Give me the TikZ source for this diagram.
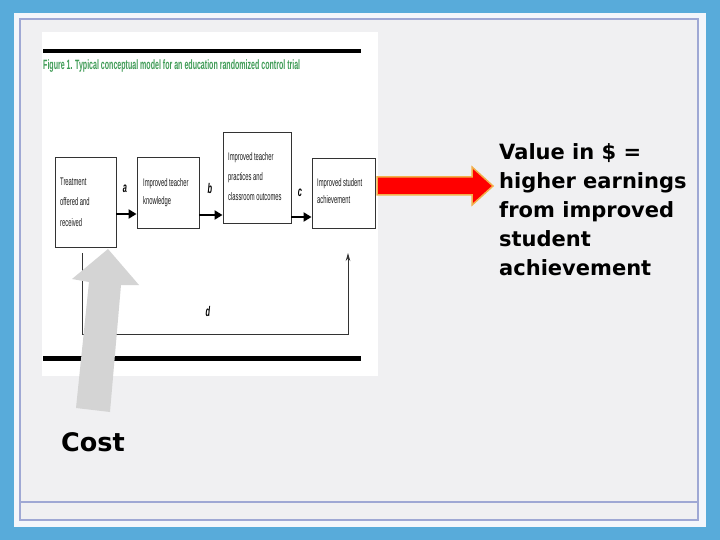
\documentclass[tikz,border=0pt]{standalone}
\usepackage{fontspec}
\usepackage{graphicx}
\setmainfont{DejaVu Sans}
\newfontfamily\figfont{Liberation Sans}
\usetikzlibrary{arrows.meta}
\definecolor{bgblue}{HTML}{58ABDA}
\definecolor{panel}{HTML}{F3F6FB}
\definecolor{inner}{HTML}{F0F0F2}
\definecolor{frame}{HTML}{9FA8D4}
\definecolor{figgreen}{HTML}{3E9B55}
\definecolor{arrowred}{HTML}{FF0000}
\definecolor{arroworange}{HTML}{F2B04A}
\definecolor{costgray}{HTML}{D4D4D4}
\newcommand\cnd[1]{\scalebox{0.53}[1]{#1}}
\tikzset{
  fbox/.style={draw=black!80, line width=0.9pt, fill=white, inner sep=0pt},
  ftxt/.style={anchor=base west, inner sep=0pt, font=\figfont\fontsize{11}{12}\selectfont, text=black!90},
  flab/.style={inner sep=0pt, font=\figfont\itshape\bfseries\fontsize{14}{15}\selectfont},
  flow/.style={line width=2.6pt, -{Triangle[length=8pt,width=9pt]}},
  bar/.style={line width=4.5pt, black},
  bigtxt/.style={anchor=base west, inner sep=0pt, font=\bfseries\fontsize{21}{29}\selectfont, align=left},
}
\begin{document}
\begin{tikzpicture}[x=1pt,y=-1pt]
\useasboundingbox (0,0) rectangle (720,540);
\fill[bgblue] (0,0) rectangle (720,540);
\fill[panel] (14,13) rectangle (706,527);
\filldraw[fill=inner, draw=frame, line width=1.6pt] (20,19) rectangle (698,520);
\draw[frame, line width=1.6pt] (20,502) -- (698,502);
% figure
\fill[white] (42,32) rectangle (378,376);
\draw[bar] (43,51) -- (361,51);
\node[anchor=base west, inner sep=0pt, text=figgreen, font=\figfont\bfseries\fontsize{13.5}{14}\selectfont] (title) at (43,70) {\resizebox{257pt}{\height}{Figure 1. Typical conceptual model for an education randomized control trial}};
\node[fbox, minimum width=61pt, minimum height=90pt] (b1) at (85.5,202) {};
\node[fbox, minimum width=62pt, minimum height=71pt] (b2) at (168,192.5) {};
\node[fbox, minimum width=68pt, minimum height=91pt] (b3) at (257,177.5) {};
\node[fbox, minimum width=63pt, minimum height=70pt] (b4) at (343.5,193) {};
\node[ftxt] (t11) at (60,186) {\cnd{Treatment}};
\node[ftxt] (t12) at (60,206) {\cnd{offered and}};
\node[ftxt] (t13) at (60,226) {\cnd{received}};
\node[ftxt] (t21) at (143,187) {\cnd{Improved teacher}};
\node[ftxt] (t22) at (143,205) {\cnd{knowledge}};
\node[ftxt] (t31) at (228,161) {\cnd{Improved teacher}};
\node[ftxt] (t32) at (228,181) {\cnd{practices and}};
\node[ftxt] (t33) at (228,201) {\cnd{classroom outcomes}};
\node[ftxt] (t41) at (317,187) {\cnd{Improved student}};
\node[ftxt] (t42) at (317,204) {\cnd{achievement}};
\coordinate (ya) at (0,214);
\coordinate (yb) at (0,215);
\coordinate (yc) at (0,217);
\draw[flow] (b1.east |- ya) -- (b2.west |- ya);
\draw[flow] (b2.east |- yb) -- (b3.west |- yb);
\draw[flow] (b3.east |- yc) -- (b4.west |- yc);
\node[flab] (la) at (125,189) {\cnd{a}};
\node[flab] (lb) at (210,188) {\cnd{b}};
\node[flab] (lc) at (300,193) {\cnd{c}};
\coordinate (d0) at (82,253);
\coordinate (d1) at (82,334);
\coordinate (d2) at (348,334);
\coordinate (d3) at (348,253);
\draw[black!80, line width=0.8pt, -{Stealth[length=8pt,width=4.5pt]}] (d0) -- (d1) -- (d2) -- (d3);
\node[flab] (ld) at (208,311) {\cnd{d}};
\draw[bar, line width=5pt] (43,358) -- (361,358);
% red arrow
\filldraw[fill=arrowred, draw=arroworange, line width=1.5pt, line join=miter]
  (377,177) -- (472,177) -- (472,167) -- (493,186) -- (472,205) -- (472,195) -- (377,195) -- cycle;
% gray cost arrow
\fill[costgray] (76,408) -- (89,282) -- (72,279) -- (108,249) -- (139,285) -- (121,285) -- (110,412) -- cycle;
% texts
\node[bigtxt] (value) at (499,275) {Value in \$ =\\higher earnings\\from improved\\student\\achievement};
\node[anchor=base west, inner sep=0pt, font=\bfseries\fontsize{25.5}{28}\selectfont] (cost) at (61,451) {Cost};
\end{tikzpicture}
\end{document}
